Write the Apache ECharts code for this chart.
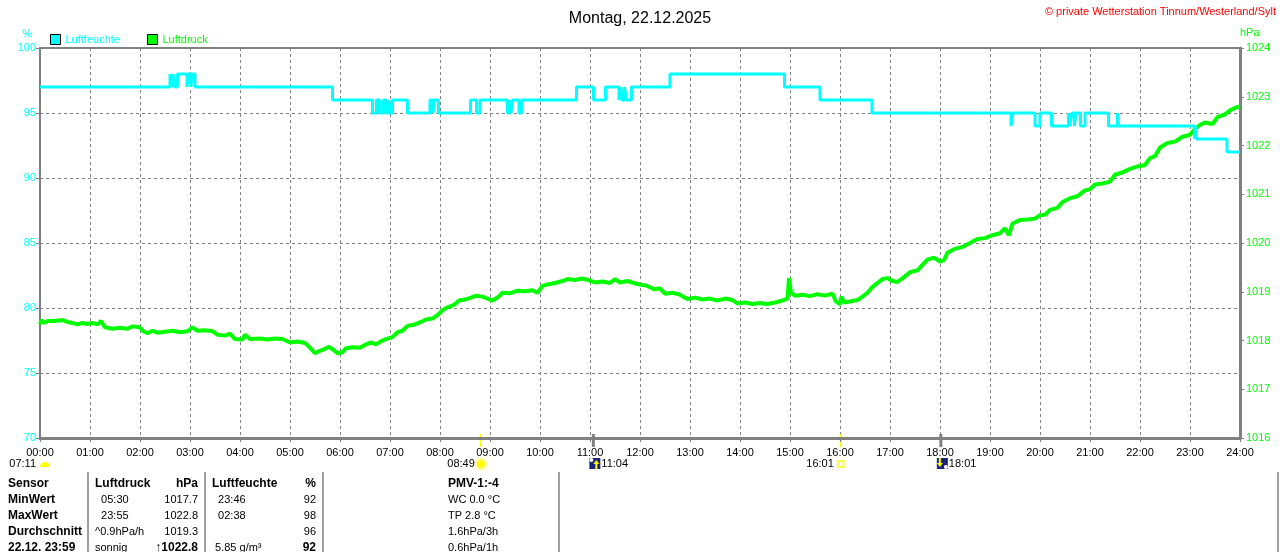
<!DOCTYPE html>
<html>
<head>
<meta charset="utf-8">
<title>Montag, 22.12.2025</title>
<script src="https://cdn.jsdelivr.net/npm/echarts@6/dist/echarts.min.js"></script>
<style>
  html, body { margin: 0; padding: 0; background: #fff; }
  #chart { width: 1280px; height: 552px; }
</style>
</head>
<body>
<div id="chart"></div>
<script>
// Luftfeuchte in %, Wechselpunkte [Stunde, Wert] (Stufenlinie)
const humidity = [
  [0, 97], [2.6, 98], [2.64, 97], [2.66, 98], [2.7, 97], [2.75, 98], [2.94, 97], [2.97, 98], [3.02, 97], [3.04, 98], [3.1, 97],
  [5.85, 96], [6.65, 95], [6.73, 96], [6.79, 95], [6.87, 96], [6.92, 95], [6.98, 96], [7.0, 95], [7.05, 96], [7.35, 95],
  [7.8, 96], [7.86, 95], [7.89, 96], [7.97, 95], [8.61, 96], [8.73, 95], [8.8, 96], [9.35, 95], [9.4, 96], [9.42, 95], [9.45, 96], [9.58, 95], [9.63, 96],
  [10.73, 97], [11.07, 96], [11.31, 97], [11.58, 96], [11.62, 97], [11.64, 96], [11.69, 97], [11.73, 96], [11.83, 97],
  [12.6, 98], [14.89, 97], [15.6, 96], [16.64, 95],
  [19.42, 94], [19.46, 95], [19.9, 94], [20.0, 95], [20.23, 94], [20.57, 95], [20.6, 94], [20.64, 95], [20.69, 94], [20.72, 95],
  [20.81, 94], [20.9, 95], [21.37, 94], [21.55, 95], [21.57, 94],
  [23.09, 93], [23.11, 94], [23.13, 93], [23.74, 92], [24, 92]
];

// Luftdruck in hPa [Stunde, Wert]
const pressure = [
  [0.00, 1018.33], [0.03, 1018.42], [0.08, 1018.36], [0.15, 1018.40], [0.30, 1018.40], [0.45, 1018.42], [0.55, 1018.38],
  [0.65, 1018.36], [0.75, 1018.33], [0.85, 1018.36], [0.95, 1018.34], [1.05, 1018.36], [1.15, 1018.33], [1.22, 1018.40],
  [1.30, 1018.27], [1.45, 1018.24], [1.60, 1018.26], [1.75, 1018.24], [1.85, 1018.29], [2.00, 1018.27], [2.05, 1018.20],
  [2.15, 1018.15], [2.25, 1018.20], [2.35, 1018.16], [2.50, 1018.18], [2.65, 1018.20], [2.80, 1018.17], [2.95, 1018.19],
  [3.05, 1018.27], [3.15, 1018.20], [3.30, 1018.21], [3.45, 1018.19], [3.55, 1018.12], [3.70, 1018.10], [3.80, 1018.14],
  [3.90, 1018.03], [4.05, 1018.02], [4.10, 1018.12], [4.20, 1018.03], [4.40, 1018.04], [4.55, 1018.02], [4.70, 1018.04],
  [4.85, 1018.03], [5.00, 1017.96], [5.15, 1017.98], [5.30, 1017.95], [5.42, 1017.83], [5.50, 1017.74], [5.58, 1017.78],
  [5.68, 1017.82], [5.78, 1017.87], [5.88, 1017.80], [5.95, 1017.74], [6.05, 1017.76], [6.12, 1017.84], [6.25, 1017.86],
  [6.40, 1017.85], [6.50, 1017.91], [6.62, 1017.96], [6.72, 1017.92], [6.85, 1018.00], [6.95, 1018.04], [7.05, 1018.07],
  [7.15, 1018.17], [7.25, 1018.20], [7.35, 1018.30], [7.50, 1018.33], [7.62, 1018.38], [7.72, 1018.43], [7.85, 1018.45],
  [7.95, 1018.52], [8.05, 1018.62], [8.15, 1018.68], [8.28, 1018.73], [8.38, 1018.82], [8.50, 1018.84], [8.62, 1018.88],
  [8.72, 1018.92], [8.85, 1018.90], [8.95, 1018.86], [9.05, 1018.82], [9.15, 1018.88], [9.25, 1018.98], [9.40, 1018.97],
  [9.55, 1019.02], [9.70, 1019.01], [9.85, 1019.03], [9.95, 1018.98], [10.05, 1019.12], [10.15, 1019.15], [10.30, 1019.18],
  [10.45, 1019.22], [10.55, 1019.26], [10.70, 1019.24], [10.85, 1019.27], [11.00, 1019.23], [11.10, 1019.19], [11.25, 1019.21],
  [11.40, 1019.18], [11.50, 1019.26], [11.60, 1019.19], [11.75, 1019.22], [11.90, 1019.17], [12.00, 1019.15], [12.15, 1019.12],
  [12.28, 1019.05], [12.40, 1019.07], [12.50, 1018.96], [12.65, 1018.98], [12.80, 1018.94], [12.95, 1018.85], [13.10, 1018.88],
  [13.25, 1018.84], [13.40, 1018.86], [13.55, 1018.82], [13.70, 1018.86], [13.85, 1018.83], [13.95, 1018.76], [14.10, 1018.78],
  [14.25, 1018.75], [14.40, 1018.77], [14.55, 1018.75], [14.70, 1018.78], [14.85, 1018.82], [14.95, 1018.86], [14.98, 1019.28],
  [15.02, 1018.98], [15.10, 1018.92], [15.25, 1018.94], [15.40, 1018.91], [15.55, 1018.95], [15.70, 1018.92], [15.85, 1018.96],
  [15.92, 1018.80], [16.00, 1018.74], [16.03, 1018.90], [16.08, 1018.78], [16.20, 1018.80], [16.35, 1018.83], [16.45, 1018.90],
  [16.55, 1018.98], [16.65, 1019.10], [16.75, 1019.18], [16.85, 1019.26], [16.95, 1019.28], [17.05, 1019.22], [17.15, 1019.20],
  [17.28, 1019.30], [17.40, 1019.40], [17.55, 1019.44], [17.65, 1019.55], [17.75, 1019.66], [17.88, 1019.70], [18.00, 1019.62],
  [18.08, 1019.65], [18.15, 1019.80], [18.30, 1019.88], [18.45, 1019.92], [18.60, 1020.00], [18.75, 1020.08], [18.90, 1020.10],
  [19.05, 1020.16], [19.20, 1020.20], [19.30, 1020.30], [19.38, 1020.16], [19.45, 1020.40], [19.60, 1020.47], [19.75, 1020.48],
  [19.90, 1020.50], [20.00, 1020.57], [20.10, 1020.58], [20.20, 1020.68], [20.35, 1020.72], [20.45, 1020.84], [20.60, 1020.92],
  [20.75, 1020.96], [20.90, 1021.08], [21.00, 1021.10], [21.10, 1021.20], [21.25, 1021.22], [21.40, 1021.26], [21.50, 1021.40],
  [21.65, 1021.45], [21.80, 1021.52], [21.95, 1021.57], [22.10, 1021.60], [22.20, 1021.74], [22.30, 1021.78], [22.40, 1021.96],
  [22.55, 1022.05], [22.70, 1022.08], [22.85, 1022.18], [23.00, 1022.22], [23.10, 1022.34], [23.20, 1022.42], [23.30, 1022.47],
  [23.45, 1022.44], [23.55, 1022.58], [23.70, 1022.64], [23.80, 1022.72], [23.92, 1022.78], [24.00, 1022.80]
];

// Sonne / Mond unter der Zeitachse
const astroLabels = ['07:11', '08:49', '11:04', '16:01', '18:01'];
const astroPos = [0, 8.817, 11.067, 16.017, 18.017];
const astroKinds = ['dawn', 'sunrise', 'moonrise', 'sunset', 'moonset'];

// Tabelle unten
const tableHeader = ['Sensor', 'Luftdruck', 'hPa', 'Luftfeuchte', '%', 'PMV-1:-4'];
const rowNames = ['MinWert', 'MaxWert', 'Durchschnitt', '22.12. 23:59'];
const pressTimes = ['  05:30', '  23:55', '^0.9hPa/h', 'sonnig'];
const pressVals = ['1017.7', '1022.8', '1019.3', '\u21911022.8'];
const humTimes = ['  23:46', '  02:38', '', ' 5.85 g/m\u00b3'];
const humVals = ['92', '98', '96', '92'];
const pmvLines = ['WC 0.0 \u00b0C', 'TP 2.8 \u00b0C', '1.6hPa/3h', '0.6hPa/1h'];

const GRAY = '#808080';
const CYAN = '#00ffff';
const GREEN = '#00ff00';
const FONT = 'Liberation Sans, Arial, sans-serif';

const chart = echarts.init(document.getElementById('chart'));

const pad2 = v => (v < 10 ? '0' : '') + v;

chart.setOption({
  animation: false,
  textStyle: { fontFamily: FONT },
  title: {
    text: 'Montag, 22.12.2025',
    left: 'center',
    top: 6,
    textStyle: { fontSize: 16, fontWeight: 'normal', color: '#000', fontFamily: FONT }
  },
  legend: {
    left: 45,
    top: 29,
    icon: 'rect',
    itemWidth: 10,
    itemHeight: 10,
    itemGap: 27,
    selectedMode: false,
    itemStyle: { borderColor: '#000', borderWidth: 1 },
    textStyle: { fontSize: 11, fontFamily: FONT },
    data: [
      { name: 'Luftfeuchte', textStyle: { color: CYAN } },
      { name: 'Luftdruck', textStyle: { color: GREEN } }
    ]
  },
  grid: {
    left: 40, right: 40, top: 48, bottom: 114,
    show: true, borderColor: GRAY, borderWidth: 2
  },
  xAxis: {
    type: 'value',
    min: 0, max: 24, interval: 1,
    axisLine: { show: true, lineStyle: { color: GRAY, width: 3 } },
    axisTick: { show: true, length: 4, lineStyle: { color: GRAY } },
    axisLabel: { color: '#000', fontSize: 11, margin: 9, formatter: v => pad2(v) + ':00' },
    splitLine: { show: true, lineStyle: { color: GRAY, width: 1, type: [3, 3] } }
  },
  yAxis: [
    {
      type: 'value',
      position: 'left',
      min: 70, max: 100, interval: 5,
      name: '%',
      nameGap: 9,
      nameTextStyle: { color: CYAN, fontSize: 11, align: 'right', padding: [0, 8, 0, 0] },
      axisLine: { show: true, lineStyle: { color: GRAY, width: 2 } },
      axisTick: { show: true, length: 4, lineStyle: { color: GRAY } },
      axisLabel: { color: CYAN, fontSize: 11, margin: 4 },
      splitLine: { show: true, lineStyle: { color: GRAY, width: 1, type: [3, 3] } }
    },
    {
      type: 'value',
      position: 'right',
      min: 1016, max: 1024, interval: 1,
      name: 'hPa',
      nameGap: 10,
      nameTextStyle: { color: GREEN, fontSize: 11, align: 'left' },
      axisLine: { show: true, lineStyle: { color: GRAY, width: 3 } },
      axisTick: { show: true, length: 4, lineStyle: { color: GRAY } },
      axisLabel: { color: GREEN, fontSize: 11, margin: 6, formatter: v => String(v) },
      splitLine: { show: false }
    }
  ],
  series: [
    {
      name: 'Luftdruck',
      type: 'line',
      yAxisIndex: 1,
      data: pressure,
      showSymbol: false,
      color: GREEN,
      lineStyle: { color: GREEN, width: 4 },
      z: 2
    },
    {
      name: 'Luftfeuchte',
      type: 'line',
      yAxisIndex: 0,
      step: 'end',
      data: humidity,
      showSymbol: false,
      color: CYAN,
      lineStyle: { color: CYAN, width: 3 },
      z: 3
    }
  ]
});

// --- Zusatzgrafik: Copyright, Sonne/Mond, Tabelle ---
const g = [];

function text(x, y, str, opt) {
  opt = opt || {};
  g.push({
    type: 'text',
    silent: true,
    style: {
      x: x, y: y, text: str,
      fill: opt.fill || '#000',
      fontSize: opt.size || 11,
      fontWeight: opt.bold ? 'bold' : 'normal',
      fontFamily: FONT,
      textAlign: opt.align || 'left',
      textVerticalAlign: 'middle'
    }
  });
}

function line(x1, y1, x2, y2, stroke, w) {
  g.push({ type: 'line', silent: true, shape: { x1, y1, x2, y2 }, style: { stroke, lineWidth: w } });
}

text(1276, 12, '\u00a9 private Wetterstation Tinnum/Westerland/Sylt', { fill: '#ff0000', align: 'right' });

const axisY = chart.convertToPixel({ yAxisIndex: 0 }, 70);
astroKinds.forEach((kind, i) => {
  const px = chart.convertToPixel({ xAxisIndex: 0 }, astroPos[i]);
  const ty = axisY + 26;
  if (kind === 'dawn') {
    g.push({ type: 'sector', silent: true, shape: { cx: px + 5, cy: ty + 3, r: 5, startAngle: Math.PI, endAngle: Math.PI * 2 }, style: { fill: '#ffff00' } });
    text(px - 4, ty, astroLabels[i], { align: 'right' });
  } else if (kind === 'sunrise') {
    line(px, axisY - 4, px, axisY + 9, '#ffff00', 2);
    g.push({ type: 'circle', silent: true, shape: { cx: px, cy: ty, r: 6 }, style: { fill: '#ffffc0', stroke: '#ffff80', lineWidth: 1 } });
    g.push({ type: 'circle', silent: true, shape: { cx: px, cy: ty, r: 4 }, style: { fill: '#ffff00' } });
    text(px - 6, ty, astroLabels[i], { align: 'right' });
  } else if (kind === 'sunset') {
    line(px, axisY - 4, px, axisY + 9, '#ffff00', 2);
    g.push({ type: 'rect', silent: true, shape: { x: px - 3, y: ty - 3, width: 6, height: 6 }, style: { fill: '#fffff0', stroke: '#ffff00', lineWidth: 1.5 } });
    text(px - 7, ty, astroLabels[i], { align: 'right' });
  } else {
    // Mond auf-/untergang
    line(px, axisY - 4, px, axisY + 9, GRAY, 3);
    const up = kind === 'moonrise';
    g.push({ type: 'rect', silent: true, shape: { x: px - 4, y: ty - 6, width: 11, height: 11 }, style: { fill: '#1a237e' } });
    g.push({ type: 'circle', silent: true, shape: { cx: up ? px - 2 : px + 5, cy: up ? ty - 4 : ty + 3, r: 2 }, style: { fill: '#ffffff' } });
    const ax = up ? px + 3 : px - 1;
    g.push({
      type: 'polygon', silent: true,
      shape: { points: up
        ? [[ax, ty - 4], [ax + 3, ty], [ax + 1, ty], [ax + 1, ty + 5], [ax - 1, ty + 5], [ax - 1, ty], [ax - 3, ty]]
        : [[ax, ty + 3], [ax + 3, ty - 1], [ax + 1, ty - 1], [ax + 1, ty - 6], [ax - 1, ty - 6], [ax - 1, ty - 1], [ax - 3, ty - 1]] },
      style: { fill: '#ffff00' }
    });
    text(px + 8, ty, astroLabels[i]);
  }
});

// Tabelle
const sepX = [88, 205, 323, 559, 1278];
sepX.forEach(x => line(x, 472, x, 552, '#a0a0a0', 2));

const rowY0 = 484;
const rowH = 16;
text(8, rowY0, tableHeader[0], { bold: true, size: 12 });
text(95, rowY0, tableHeader[1], { bold: true, size: 12 });
text(198, rowY0, tableHeader[2], { bold: true, size: 12, align: 'right' });
text(212, rowY0, tableHeader[3], { bold: true, size: 12 });
text(316, rowY0, tableHeader[4], { bold: true, size: 12, align: 'right' });
text(448, rowY0, tableHeader[5], { bold: true, size: 12 });

rowNames.forEach((name, i) => {
  const y = rowY0 + rowH * (i + 1);
  const last = i === rowNames.length - 1;
  text(8, y, name, { bold: true, size: 12 });
  text(95, y, pressTimes[i]);
  text(198, y, pressVals[i], { align: 'right', bold: last, size: last ? 12 : 11 });
  if (humTimes[i]) text(212, y, humTimes[i]);
  text(316, y, humVals[i], { align: 'right', bold: last, size: last ? 12 : 11 });
  text(448, y, pmvLines[i]);
});

chart.setOption({ graphic: { elements: g } });
</script>
</body>
</html>
